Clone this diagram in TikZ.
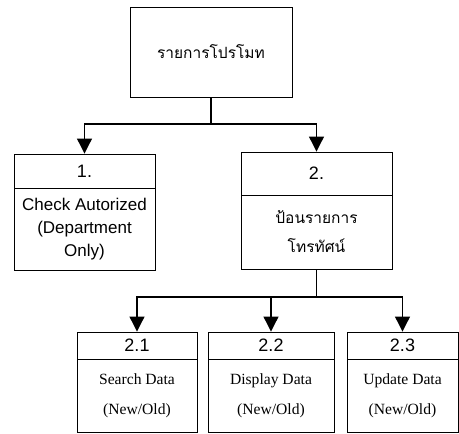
\documentclass[tikz,border=0pt]{standalone}
\usepackage{fontspec}
\setmainfont{Liberation Serif}
\setsansfont{Liberation Sans}
\newfontfamily\thaifont[Script=Thai]{Loma}
\usetikzlibrary{arrows.meta}
\begin{document}
\begin{tikzpicture}[x=1pt,y=-1pt,
  box/.style={draw,line width=0.9pt,inner sep=0pt,align=center},
  conn/.style={line width=1.1pt},
  arr/.style={conn,-{Triangle[width=15pt,length=15pt]}},
  num/.style={box,font=\sffamily\fontsize{18}{20}\selectfont},
  thai/.style={box,font=\thaifont\fontsize{15.5}{29}\selectfont},
  engl/.style={box,font=\sffamily\fontsize{17}{23}\selectfont},
  subl/.style={box,font=\rmfamily\fontsize{15.6}{30}\selectfont}]
  \useasboundingbox (0,0) rectangle (459,434);
  % top box
  \node[thai,minimum width=162,minimum height=90] (top) at (211,52) {รายการโปรโมท};
  % level 1
  \node[num,minimum width=141,minimum height=34] (h1) at (84.5,171) {1.};
  \node[engl,minimum width=141,minimum height=82] (b1) at (84.5,229) {Check Autorized\\(Department\\Only)};
  \node[num,minimum width=151,minimum height=43] (h2) at (316.5,173.5) {2.};
  \node[thai,minimum width=151,minimum height=74] (b2) at (316.5,232) {ป้อนรายการ\\โทรทัศน์};
  % level 2
  \node[num,minimum width=120,minimum height=27] (h21) at (137,345.5) {2.1};
  \node[subl,minimum width=120,minimum height=73] (b21) at (137,395.5) {Search Data\\(New/Old)};
  \node[num,minimum width=126,minimum height=27] (h22) at (271,345.5) {2.2};
  \node[subl,minimum width=126,minimum height=73] (b22) at (271,395.5) {Display Data\\(New/Old)};
  \node[num,minimum width=111,minimum height=27] (h23) at (402.5,345.5) {2.3};
  \node[subl,minimum width=111,minimum height=73] (b23) at (402.5,395.5) {Update Data\\(New/Old)};
  % connectors
  \coordinate (j1) at (211,124);
  \coordinate (j2) at (316.5,297);
  \draw[conn] (top)--(j1);
  \draw[arr] (j1) -| (h1);
  \draw[arr] (j1) -| (h2);
  \draw[conn] (b2)--(j2);
  \draw[arr] (j2) -| (h21);
  \draw[arr] (j2) -| (h22);
  \draw[arr] (j2) -| (h23);
\end{tikzpicture}
\end{document}
